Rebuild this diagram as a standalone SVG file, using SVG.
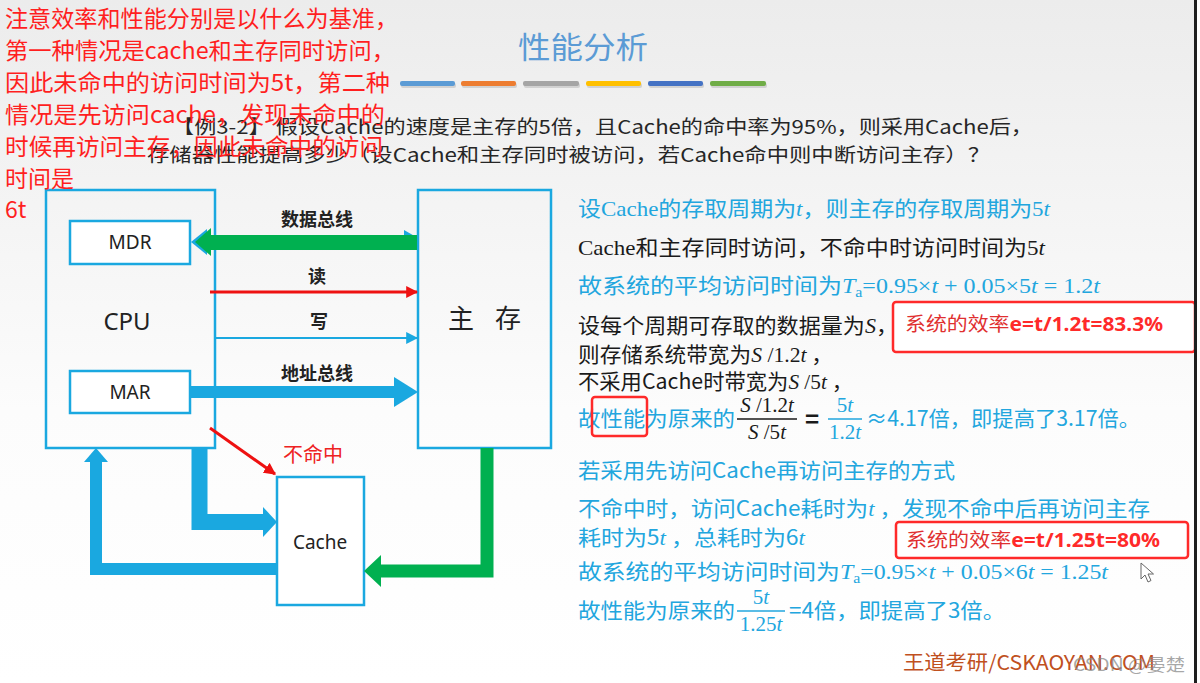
<svg xmlns="http://www.w3.org/2000/svg" width="1200" height="683" viewBox="0 0 1200 683">
<defs>
<linearGradient id="bg" x1="0" y1="0" x2="0" y2="1">
<stop offset="0" stop-color="#ececec"/>
<stop offset="0.6" stop-color="#fcfcfc"/>
<stop offset="1" stop-color="#ffffff"/>
</linearGradient>
<marker id="redHead" viewBox="0 0 10 10" refX="9" refY="5" markerWidth="4" markerHeight="4" orient="auto" markerUnits="strokeWidth">
<path d="M0,0 L10,5 L0,10 z" fill="#ee1111"/>
</marker>
<marker id="cyanHead" viewBox="0 0 10 10" refX="9" refY="5" markerWidth="6" markerHeight="6" orient="auto" markerUnits="strokeWidth">
<path d="M0,0 L10,5 L0,10 z" fill="#1aa8e0"/>
</marker>
<style>
text{font-family:"Noto Sans CJK SC","Noto Sans",sans-serif;}
.box{fill:#ffffff;stroke:#1aa8e0;stroke-width:2.5;}
.frame{fill:none;stroke:#1aa8e0;stroke-width:2.5;}
.lbl{fill:#222;font-family:"Noto Sans","Noto Sans CJK SC",sans-serif;text-anchor:middle;}
.bus{fill:#222;font-size:18px;font-weight:bold;text-anchor:middle;}
.note{fill:#ff1f1f;font-size:23px;}
.q{fill:#262626;font-size:19px;}
.cy{fill:#22a6de;font-size:21px;}
.bk{fill:#1a1a1a;font-size:21px;}
.ser{font-family:"Liberation Serif","Noto Sans CJK SC",serif;}
.it{font-family:"Liberation Serif",serif;font-style:italic;}
.rbox{fill:#ffffff;stroke:#ff2a2a;stroke-width:2.5;}
.rtxt{fill:#ff2a2a;font-size:19px;}
</style>
</defs>
<rect x="0" y="0" width="1200" height="683" fill="url(#bg)"/>

<!-- title and colour bars -->
<g id="title">
<text x="518" y="58" font-size="30" fill="#5b9bd5" textLength="130" lengthAdjust="spacingAndGlyphs">性能分析</text>
<rect x="401" y="83" width="55" height="5" rx="2" fill="#9a9a9a" opacity="0.35"/>
<rect x="400" y="81" width="55" height="5" rx="2" fill="#5b9bd5"/>
<rect x="462" y="83" width="55" height="5" rx="2" fill="#9a9a9a" opacity="0.35"/>
<rect x="461" y="81" width="55" height="5" rx="2" fill="#ed7d31"/>
<rect x="524" y="83" width="56" height="5" rx="2" fill="#9a9a9a" opacity="0.35"/>
<rect x="523" y="81" width="56" height="5" rx="2" fill="#a5a5a5"/>
<rect x="587" y="83" width="55" height="5" rx="2" fill="#9a9a9a" opacity="0.35"/>
<rect x="586" y="81" width="55" height="5" rx="2" fill="#ffc000"/>
<rect x="649" y="83" width="55" height="5" rx="2" fill="#9a9a9a" opacity="0.35"/>
<rect x="648" y="81" width="55" height="5" rx="2" fill="#4472c4"/>
<rect x="711" y="83" width="56" height="5" rx="2" fill="#9a9a9a" opacity="0.35"/>
<rect x="710" y="81" width="56" height="5" rx="2" fill="#70ad47"/>
</g>

<!-- question -->
<g id="question">
<text class="q" x="172" y="134" textLength="861" lengthAdjust="spacingAndGlyphs">【例3-2】  假设Cache的速度是主存的5倍，且Cache的命中率为95%，则采用Cache后，</text>
<text class="q" x="147" y="162" textLength="843" lengthAdjust="spacingAndGlyphs">存储器性能提高多少（设Cache和主存同时被访问，若Cache命中则中断访问主存）？</text>
</g>

<!-- nodes -->
<g id="cpu">
<rect class="frame" x="46" y="190" width="169" height="258"/>
<text class="lbl" x="127" y="330" font-size="24">CPU</text>
</g>
<g id="mdr">
<rect class="box" x="70" y="221" width="120" height="43"/>
<text class="lbl" x="130" y="249" font-size="19">MDR</text>
</g>
<g id="mar">
<rect class="box" x="70" y="371" width="120" height="42"/>
<text class="lbl" x="130" y="399" font-size="19">MAR</text>
</g>
<g id="main-memory">
<rect class="frame" x="418" y="190" width="133" height="258"/>
<text x="461" y="328" font-size="26" fill="#222" text-anchor="middle">主</text>
<text x="508" y="328" font-size="26" fill="#222" text-anchor="middle">存</text>
</g>
<g id="cache">
<rect class="box" x="277" y="477" width="87" height="128"/>
<text class="lbl" x="320" y="549" font-size="19">Cache</text>
</g>

<!-- connectors -->
<g id="connectors">
<!-- data bus: cyan double arrow underneath, green arrow on top -->
<rect x="205" y="237" width="200" height="10" fill="#1aa8e0"/>
<polygon points="207,229 191,242 207,255" fill="#1aa8e0"/>
<polygon points="404,230 418,238 404,246" fill="#1aa8e0"/>
<rect x="209" y="235" width="208" height="15" fill="#00b050"/>
<polygon points="211,228 195,242 211,256" fill="#00b050"/>
<!-- read -->
<line x1="210" y1="292" x2="417" y2="292" stroke="#ee1111" stroke-width="3" marker-end="url(#redHead)"/>
<!-- write -->
<line x1="215" y1="338" x2="417" y2="338" stroke="#1aa8e0" stroke-width="2" marker-end="url(#cyanHead)"/>
<!-- address bus -->
<rect x="190" y="386" width="205" height="12" fill="#1aa8e0"/>
<polygon points="394,377 418,392 394,407" fill="#1aa8e0"/>
<!-- miss arrow -->
<line x1="210" y1="428" x2="275" y2="474" stroke="#ee1111" stroke-width="3" marker-end="url(#redHead)"/>
<!-- CPU -> Cache -->
<polyline points="199.5,448 199.5,522 264,522" fill="none" stroke="#1aa8e0" stroke-width="16" stroke-linejoin="miter"/>
<polygon points="263,507 277,522 263,537" fill="#1aa8e0"/>
<!-- Cache -> CPU -->
<polyline points="277,569 96,569 96,461" fill="none" stroke="#1aa8e0" stroke-width="12" stroke-linejoin="miter"/>
<polygon points="84,462 96,448 108,462" fill="#1aa8e0"/>
<!-- Main memory -> Cache -->
<polyline points="487,448 487,571 380,571" fill="none" stroke="#00b050" stroke-width="13" stroke-linejoin="miter"/>
<polygon points="381,555 364,571 381,587" fill="#00b050"/>
</g>

<!-- bus labels -->
<g id="bus-labels">
<text class="bus" x="317" y="226">数据总线</text>
<text class="bus" x="317" y="283">读</text>
<text class="bus" x="319" y="328">写</text>
<text class="bus" x="317" y="380">地址总线</text>
<text x="283" y="462" font-size="20" fill="#ee2222">不命中</text>
</g>

<!-- right explanation -->
<g id="explanation">
<text class="cy" x="578" y="216" textLength="472" lengthAdjust="spacingAndGlyphs">设<tspan class="ser">Cache</tspan>的存取周期为<tspan class="it">t</tspan>，则主存的存取周期为<tspan class="ser">5</tspan><tspan class="it">t</tspan></text>
<text class="bk" x="578" y="255" textLength="467" lengthAdjust="spacingAndGlyphs"><tspan class="ser">Cache</tspan>和主存同时访问，不命中时访问时间为<tspan class="ser">5</tspan><tspan class="it">t</tspan></text>
<text class="cy" x="578" y="293" textLength="522" lengthAdjust="spacingAndGlyphs">故系统的平均访问时间为<tspan class="it">T</tspan><tspan class="ser" font-size="14" dy="4">a</tspan><tspan class="ser" dy="-4">=0.95×</tspan><tspan class="it">t</tspan><tspan class="ser"> + 0.05×5</tspan><tspan class="it">t</tspan><tspan class="ser"> = 1.2</tspan><tspan class="it">t</tspan></text>
<text class="bk" x="578" y="333" textLength="320" lengthAdjust="spacingAndGlyphs">设每个周期可存取的数据量为<tspan class="it">S</tspan>，</text>
<rect class="rbox" x="893" y="302" width="302" height="50" rx="3"/>
<text class="rtxt" x="905" y="331" textLength="258" lengthAdjust="spacingAndGlyphs"><tspan fill="#e03030">系统的效率</tspan><tspan font-family="Noto Sans,sans-serif" font-weight="bold">e=t/1.2t=83.3%</tspan></text>
<text class="bk" x="578" y="362" textLength="255" lengthAdjust="spacingAndGlyphs">则存储系统带宽为<tspan class="it">S</tspan><tspan class="ser"> /1.2</tspan><tspan class="it">t</tspan> ，</text>
<text class="bk" x="578" y="389" textLength="275" lengthAdjust="spacingAndGlyphs">不采用Cache时带宽为<tspan class="it">S</tspan><tspan class="ser"> /5</tspan><tspan class="it">t</tspan> ，</text>

<text class="cy" x="578" y="426" textLength="157" lengthAdjust="spacingAndGlyphs">故性能为原来的</text>
<text class="bk" x="767" y="412" text-anchor="middle"><tspan class="it">S</tspan><tspan class="ser"> /1.2</tspan><tspan class="it">t</tspan></text>
<line x1="737" y1="419" x2="797" y2="419" stroke="#1a1a1a" stroke-width="1.5"/>
<text class="bk" x="767" y="439" text-anchor="middle"><tspan class="it">S</tspan><tspan class="ser"> /5</tspan><tspan class="it">t</tspan></text>
<text x="812" y="428" font-size="24" font-weight="bold" fill="#1a1a1a" text-anchor="middle">=</text>
<text class="cy" x="845" y="412" text-anchor="middle"><tspan class="ser">5</tspan><tspan class="it">t</tspan></text>
<line x1="828" y1="419" x2="862" y2="419" stroke="#22a6de" stroke-width="1.5"/>
<text class="cy" x="845" y="439" text-anchor="middle"><tspan class="ser">1.2</tspan><tspan class="it">t</tspan></text>
<text class="cy" x="866" y="426" textLength="274" lengthAdjust="spacingAndGlyphs">≈4.17倍，即提高了3.17倍。</text>
<rect x="592" y="397" width="55" height="39" rx="3" fill="none" stroke="#ff2a2a" stroke-width="2.5"/>

<text class="cy" x="578" y="478" textLength="377" lengthAdjust="spacingAndGlyphs">若采用先访问Cache再访问主存的方式</text>
<text class="cy" x="578" y="516" textLength="572" lengthAdjust="spacingAndGlyphs">不命中时，访问Cache耗时为<tspan class="it">t</tspan> ，发现不命中后再访问主存</text>
<text class="cy" x="578" y="545" textLength="227" lengthAdjust="spacingAndGlyphs">耗时为5<tspan class="it">t</tspan> ，总耗时为6<tspan class="it">t</tspan></text>
<rect class="rbox" x="896" y="522" width="292" height="36" rx="3"/>
<text class="rtxt" x="906" y="547" textLength="254" lengthAdjust="spacingAndGlyphs"><tspan fill="#e03030">系统的效率</tspan><tspan font-family="Noto Sans,sans-serif" font-weight="bold">e=t/1.25t=80%</tspan></text>
<text class="cy" x="578" y="579" textLength="530" lengthAdjust="spacingAndGlyphs">故系统的平均访问时间为<tspan class="it">T</tspan><tspan class="ser" font-size="14" dy="4">a</tspan><tspan class="ser" dy="-4">=0.95×</tspan><tspan class="it">t</tspan><tspan class="ser"> + 0.05×6</tspan><tspan class="it">t</tspan><tspan class="ser"> = 1.25</tspan><tspan class="it">t</tspan></text>
<path d="M1141,563 l0,16 l4,-4 l3,7 l3,-1.5 l-3,-6.5 l5.5,0 z" fill="#ffffff" stroke="#666" stroke-width="1"/>

<text class="cy" x="578" y="618" textLength="157" lengthAdjust="spacingAndGlyphs">故性能为原来的</text>
<text class="cy" x="761" y="604" text-anchor="middle"><tspan class="ser">5</tspan><tspan class="it">t</tspan></text>
<line x1="737" y1="611" x2="785" y2="611" stroke="#22a6de" stroke-width="1.5"/>
<text class="cy" x="761" y="631" text-anchor="middle"><tspan class="ser">1.25</tspan><tspan class="it">t</tspan></text>
<text class="cy" x="789" y="618" textLength="216" lengthAdjust="spacingAndGlyphs">=4倍，即提高了3倍。</text>
</g>

<!-- handwritten-style annotation -->
<g id="annotation">
<text class="note" x="5" y="27" textLength="393" lengthAdjust="spacingAndGlyphs">注意效率和性能分别是以什么为基准，</text>
<text class="note" x="5" y="59" textLength="390" lengthAdjust="spacingAndGlyphs">第一种情况是cache和主存同时访问，</text>
<text class="note" x="5" y="91" textLength="385" lengthAdjust="spacingAndGlyphs">因此未命中的访问时间为5t，第二种</text>
<text class="note" x="5" y="123" textLength="380" lengthAdjust="spacingAndGlyphs">情况是先访问cache，发现未命中的</text>
<text class="note" x="5" y="155" textLength="378" lengthAdjust="spacingAndGlyphs">时候再访问主存，因此未命中的访问</text>
<text class="note" x="5" y="187">时间是</text>
<text class="note" x="5" y="218">6t</text>
</g>

<!-- footer -->
<g id="footer">
<text x="903" y="670" font-size="20" fill="#c0501e" textLength="252" lengthAdjust="spacingAndGlyphs">王道考研/CSKAOYAN.COM</text>
<text x="1073" y="671" font-size="17" fill="#8a8a8a" fill-opacity="0.75" textLength="112" lengthAdjust="spacingAndGlyphs">CSDN @晏楚</text>
</g>
<rect x="1194" y="0" width="3" height="683" fill="#1e1e1e"/>
<rect x="1197" y="0" width="3" height="683" fill="#ffffff"/>
</svg>
